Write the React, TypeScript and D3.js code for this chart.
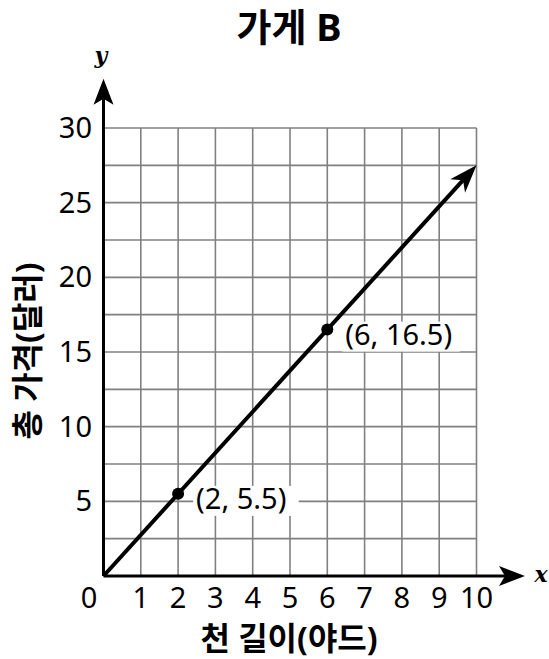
import React from "react";
import * as d3 from "d3";

const title = "가게 B";
const xLabel = "천 길이(야드)";
const yLabel = "총 가격(달러)";
const xTicks = [1, 2, 3, 4, 5, 6, 7, 8, 9, 10];
const yTicks = [5, 10, 15, 20, 25, 30];
const lineX = [0, 10];
const lineY = [0, 27.5];
const pointsX = [2, 6];
const pointsY = [5.5, 16.5];
const pointLabels = ["(2, 5.5)", "(6, 16.5)"];

const W = 549;
const H = 659;

export default function App() {
  const x = d3.scaleLinear().domain([0, 10]).range([103.5, 476.5]);
  const y = d3.scaleLinear().domain([0, 30]).range([576, 128]);
  const font = "'Noto Sans', 'Noto Sans CJK KR', sans-serif";
  const vGrid = d3.range(0, 11, 1);
  const hGrid = d3.range(0, 30.01, 2.5);
  return (
    <svg width={W} height={H} style={{ position: "absolute", left: 0, top: 0 }}>
      <rect width={W} height={H} fill="#fff" />
      <text x={289} y={41} textAnchor="middle" fontFamily={font} fontWeight="bold" fontSize={38}>{title}</text>
      {vGrid.map((v) => (
        <line key={"v" + v} x1={x(v)} x2={x(v)} y1={y(0)} y2={y(30)} stroke="#808080" strokeWidth={1.6} />
      ))}
      {hGrid.map((v) => (
        <line key={"h" + v} x1={x(0)} x2={x(10)} y1={y(v)} y2={y(v)} stroke="#808080" strokeWidth={1.6} />
      ))}
      {/* axes */}
      <line x1={x(0)} x2={x(0)} y1={y(0)} y2={y(33.3) + 20} stroke="#000" strokeWidth={3} />
      <path d={`M${x(0)},${y(33.3)} L${x(0) - 10},${y(33.3) + 26} L${x(0)},${y(33.3) + 20} L${x(0) + 10},${y(33.3) + 26} Z`} fill="#000" />
      <line x1={x(0)} x2={x(11.3) - 20} y1={y(0)} y2={y(0)} stroke="#000" strokeWidth={3} />
      <path d={`M${x(11.3)},${y(0)} L${x(11.3) - 26},${y(0) - 10} L${x(11.3) - 20},${y(0)} L${x(11.3) - 26},${y(0) + 10} Z`} fill="#000" />
      <text x={101} y={63} textAnchor="middle" fontFamily="'DejaVu Serif', serif" fontStyle="italic" fontWeight="bold" fontSize={22}>y</text>
      <text x={541} y={582} textAnchor="middle" fontFamily="'DejaVu Serif', serif" fontStyle="italic" fontWeight="bold" fontSize={22}>x</text>
      {/* ticks */}
      {yTicks.map((t) => (
        <text key={"yt" + t} x={92} y={y(t) + 10} textAnchor="end" fontFamily={font} fontSize={29}>{t}</text>
      ))}
      {xTicks.map((t) => (
        <text key={"xt" + t} x={x(t)} y={608} textAnchor="middle" fontFamily={font} fontSize={29}>{t}</text>
      ))}
      <text x={89} y={608} textAnchor="middle" fontFamily={font} fontSize={29}>0</text>
      {/* data line */}
      {(() => {
        const x1 = x(lineX[0]), y1 = y(lineY[0]), x2 = x(lineX[1]), y2 = y(lineY[1]);
        const ang = Math.atan2(y2 - y1, x2 - x1);
        const L = 28, hw = 10, inset = 20;
        const bx = x2 - L * Math.cos(ang), by = y2 - L * Math.sin(ang);
        const nx = -Math.sin(ang), ny = Math.cos(ang);
        const ix = x2 - inset * Math.cos(ang), iy = y2 - inset * Math.sin(ang);
        return (
          <g>
            <line x1={x1} y1={y1} x2={ix} y2={iy} stroke="#000" strokeWidth={4} />
            <path d={`M${x2},${y2} L${bx + nx * hw},${by + ny * hw} L${ix},${iy} L${bx - nx * hw},${by - ny * hw} Z`} fill="#000" />
          </g>
        );
      })()}
      {pointsX.map((px, i) => {
        const cx = x(px), cy = y(pointsY[i]);
        const tw = pointLabels[i].length * 12.2;
        return (
          <g key={"p" + i}>
            <rect x={cx + 15} y={cy - 8} width={tw + 8} height={30} fill="#fff" />
            <circle cx={cx} cy={cy} r={6} fill="#000" />
            <text x={cx + 18} y={cy + 15} fontFamily={font} fontSize={29}>{pointLabels[i]}</text>
          </g>
        );
      })}
      <text x={289} y={650} textAnchor="middle" fontFamily={font} fontWeight="bold" fontSize={32}>{xLabel}</text>
      <text transform={`translate(39,351) rotate(-90)`} textAnchor="middle" fontFamily={font} fontWeight="bold" fontSize={32}>{yLabel}</text>
    </svg>
  );
}
